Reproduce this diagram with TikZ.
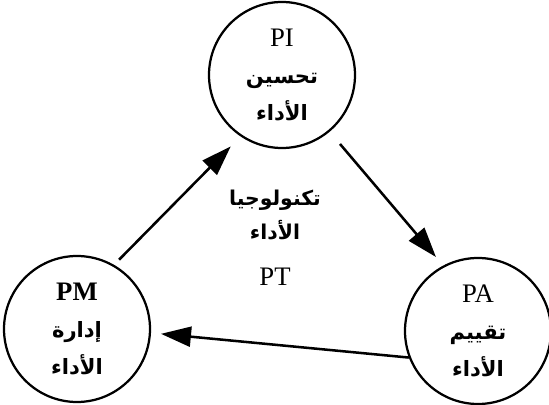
\documentclass[tikz,border=0pt]{standalone}
\usepackage{fontspec}
\setmainfont{Liberation Serif}
\newfontfamily\arabicfont[Script=Arabic]{DejaVu Sans}
\TeXXeTstate=1
\usetikzlibrary{arrows.meta, positioning}

\newcommand{\ar}[1]{{\arabicfont\bfseries\fontsize{15}{26}\selectfont\beginR #1\endR}}
\newcommand{\arsm}[1]{{\arabicfont\bfseries\fontsize{14.5}{24}\selectfont\beginR #1\endR}}

\begin{document}
\begin{tikzpicture}[
  phase/.style={draw, circle, line width=1.6pt, minimum size=3.65cm,
    inner sep=0pt, align=center, font=\fontsize{19}{26.5}\selectfont},
  label/.style={align=center, font=\fontsize{19}{24}\selectfont},
  arr/.style={-{Triangle[length=7.5mm, width=5mm]}, line width=1.8pt},
]
  \useasboundingbox (0,0) rectangle (13.725,10.125);

  % the three phases
  \node[phase] (PI) at (7.05,8.25)  {PI\\\ar{تحسين}\\\ar{الأداء}};
  \node[phase] (PM) at (1.925,1.9)  {\textbf{PM}\\\ar{إدارة}\\\ar{الأداء}};
  \node[phase] (PA) at (11.95,1.85) {PA\\\ar{تقييم}\\\ar{الأداء}};

  % centre
  \node[label] (ptname) at (6.875,4.75) {\arsm{تكنولوجيا}\\\arsm{الأداء}};
  \node[label] (pt) at (6.875,3.2) {PT};

  \draw[arr, shorten <=0.18cm, shorten >=0.35cm] (PM.60)  -- (PI.236);
  \draw[arr, shorten <=0.4cm,  shorten >=0.28cm] (PI.310) -- (PA.118);
  \draw[arr, shorten >=0.25cm] (PA.201) -- (PM.357);
\end{tikzpicture}
\end{document}
